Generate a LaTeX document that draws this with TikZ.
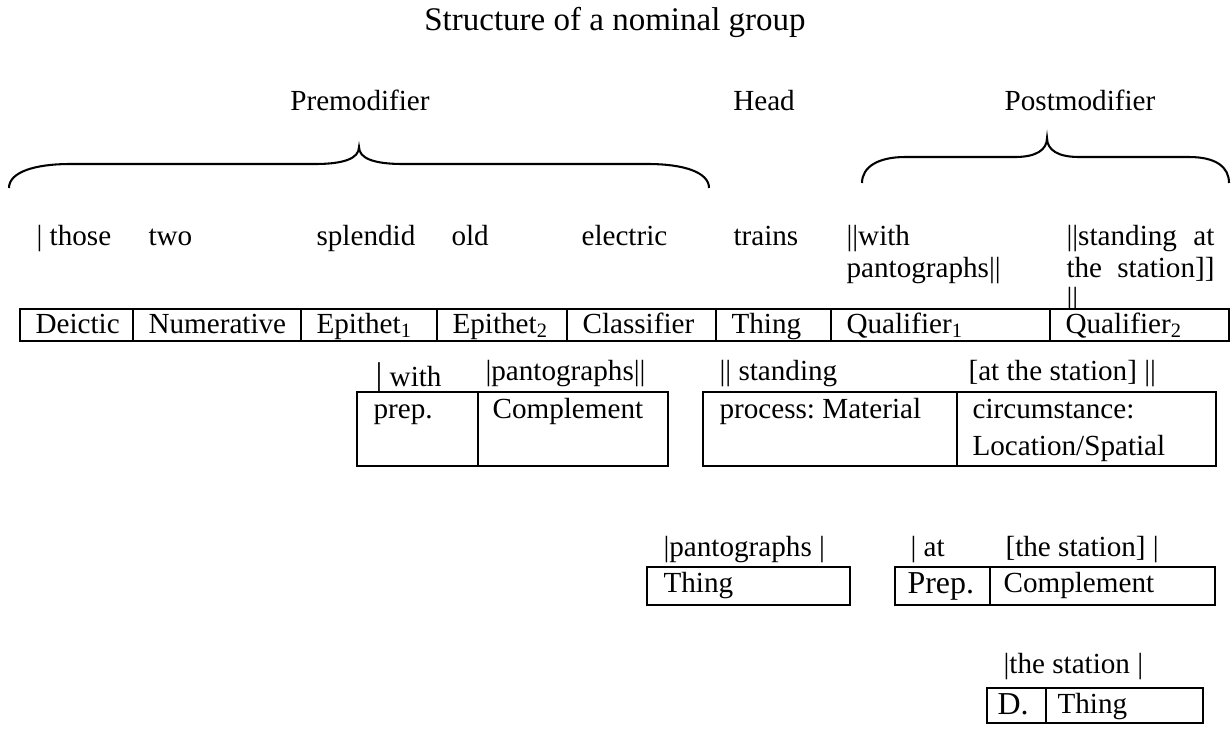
\documentclass[tikz,border=0pt]{standalone}
\usepackage{fontspec}
\setmainfont{Liberation Serif}
\frenchspacing
\newcommand\txtsize{\fontsize{10.6}{12.7}\selectfont}
\begin{document}
\begin{tikzpicture}[x=0.3636pt, y=-0.3636pt,
    word/.style={anchor=base west, inner sep=0pt, font=\txtsize},
    label/.style={anchor=base, inner sep=0pt, font=\txtsize},
    cellbox/.style={draw, line width=0.75pt, fill=white},
    rule/.style={line width=0.75pt},
    brace/.style={line width=0.75pt}
]
\useasboundingbox (0,0) rectangle (1231,743);

% Title and group labels
\node[label, font=\fontsize{12}{14}\selectfont] (title) at (615,30) {Structure of a nominal group};
\node[label] (premod) at (360,110) {Premodifier};
\node[label] (headlbl) at (764,110) {Head};
\node[label] (postmod) at (1080,110) {Postmodifier};

% Braces
\draw[brace] (9,188) .. controls (9,172) and (35,164) .. (70,164) -- (315,164)
    .. controls (345,164) and (359,158) .. (359,147)
    .. controls (359,158) and (373,164) .. (403,164) -- (648,164)
    .. controls (683,164) and (709,172) .. (709,188);
\draw[brace] (862,183) .. controls (862,167) and (878,157) .. (905,157) -- (1015,157)
    .. controls (1036,157) and (1047,150) .. (1047,138)
    .. controls (1047,150) and (1058,157) .. (1079,157) -- (1189,157)
    .. controls (1216,157) and (1229,167) .. (1229,183);

% Words of the group
\foreach \x/\n/\t in {36/wthose/{| those}, 148/wtwo/two, 316/wsplendid/splendid,
    451/wold/old, 581/welectric/electric, 733/wtrains/trains, 846/wwith/{||with}} {
    \node[word] (\n) at (\x,245) {\t};
}
\node[word] (wpanto) at (846,277) {pantographs||};
\node[word] (wstand) at (1066,245) {\makebox[53.8pt][s]{||standing at}};
\node[word] (wstation) at (1066,277) {\makebox[53.8pt][s]{the station]]}};
\node[word] (wbars) at (1066,307) {||};

% Function row
\draw[cellbox] (20,309) rectangle (1229,341);
\foreach \x in {133,301,437,567,716,831,1050} {
    \draw[rule] (\x,309) -- (\x,341);
}
\foreach \x/\n/\t in {20/fdeictic/Deictic, 133/fnum/Numerative, 301/fepione/{Epithet\textsubscript{1}},
    437/fepitwo/{Epithet\textsubscript{2}}, 567/fclass/Classifier, 716/fthing/Thing,
    831/fqualone/{Qualifier\textsubscript{1}}, 1050/fqualtwo/{Qualifier\textsubscript{2}}} {
    \node[word] (\n) at (\x+15,333) {\t};
}

% Qualifier 1 and 2
\node[word] (qwith) at (375,386) {{\fontsize{12.5}{15}\selectfont|} with};
\node[word] (qpanto) at (485,380) {|pantographs||};
\node[word] (qstand) at (719,380) {|| standing};
\node[word] (qat) at (968,380) {[at the station] ||};
\draw[cellbox] (357,392) rectangle (668,466);
\draw[rule] (478,392) -- (478,466);
\node[word] (qprep) at (373,418) {prep.};
\node[word] (qcompl) at (492,418) {Complement};
\draw[cellbox] (703,392) rectangle (1216,466);
\draw[rule] (957,392) -- (957,466);
\node[word] (qproc) at (719,418) {process: Material};
\node[word] (qcirc) at (972,418) {circumstance:};
\node[word] (qloc) at (972,455) {Location/Spatial};

% Third level
\node[word] (tpanto) at (663,556) {|pantographs |};
\draw[cellbox] (647,567) rectangle (850,605);
\node[word] (tthing) at (663,592) {Thing};
\node[word] (tat) at (910,556) {| at};
\node[word] (tstation) at (1005,556) {[the station] |};
\draw[cellbox] (895,567) rectangle (1215,605);
\draw[rule] (990,567) -- (990,605);
\node[word, font=\fontsize{11.6}{14}\selectfont] (tprep) at (907,593) {Prep.};
\node[word] (tcompl) at (1003,592) {Complement};

% Fourth level
\node[word] (dstation) at (1003,673) {|the station |};
\draw[cellbox] (987,688) rectangle (1203,723);
\draw[rule] (1046,688) -- (1046,723);
\node[word, font=\fontsize{11.6}{14}\selectfont] (ddet) at (997,714) {D.};
\node[word] (dthing) at (1057,713) {Thing};
\end{tikzpicture}
\end{document}
